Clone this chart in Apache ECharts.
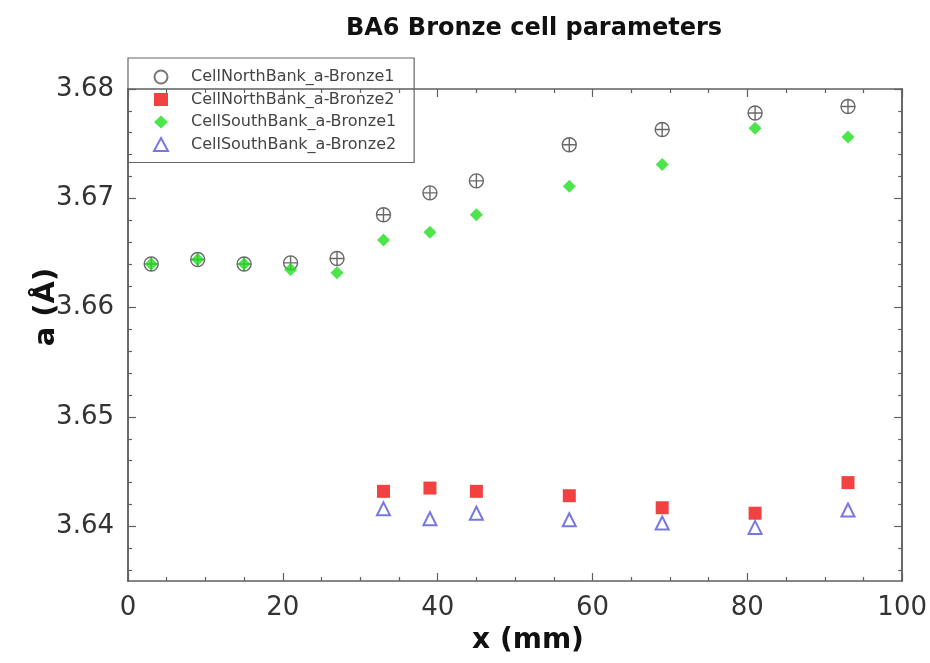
<!DOCTYPE html>
<html>
<head>
<meta charset="utf-8">
<script src="https://cdn.jsdelivr.net/npm/echarts@6/dist/echarts.min.js"></script>
<style>html,body{margin:0;padding:0;background:#fff}#c{width:930px;height:663px}</style>
</head>
<body>
<div id="c"></div>
<script>
// ---- data ----
const seriesNames = ['CellNorthBank_a-Bronze1', 'CellNorthBank_a-Bronze2', 'CellSouthBank_a-Bronze1', 'CellSouthBank_a-Bronze2'];
const xNorth1 = [3, 9, 15, 21, 27, 33, 39, 45, 57, 69, 81, 93];
const aNorth1 = [3.6640, 3.6644, 3.6640, 3.6641, 3.6645, 3.6685, 3.6705, 3.6716, 3.6749, 3.6763, 3.6778, 3.6784];
const xSouth1 = [3, 9, 15, 21, 27, 33, 39, 45, 57, 69, 81, 93];
const aSouth1 = [3.6640, 3.6644, 3.6640, 3.6635, 3.6632, 3.6662, 3.6669, 3.6685, 3.6711, 3.6731, 3.6764, 3.6756];
const xNorth2 = [33, 39, 45, 57, 69, 81, 93];
const aNorth2 = [3.6432, 3.6435, 3.6432, 3.6428, 3.6417, 3.6412, 3.6440];
const xSouth2 = [33, 39, 45, 57, 69, 81, 93];
const aSouth2 = [3.6416, 3.6407, 3.6412, 3.6406, 3.6403, 3.6399, 3.6415];
const yMajorTicks = [3.64, 3.65, 3.66, 3.67, 3.68];
const yMinorTicks = [3.636, 3.638, 3.642, 3.644, 3.646, 3.648, 3.652, 3.654, 3.656, 3.658, 3.662, 3.664, 3.666, 3.668, 3.672, 3.674, 3.676, 3.678];
const xMin = 0, xMax = 100, xStep = 20;
const yMin = 3.635, yMax = 3.68;
const titleText = 'BA6 Bronze cell parameters';
const xName = 'x (mm)';
const yName = 'a (Å)';

const pair = (xs, ys) => xs.map((x, i) => [x, ys[i]]);
const FONT = 'DejaVu Sans';
const AX = '#606060';

function yAx(pos, ticks, len, labels) {
  return {
    type: 'value', position: pos, min: yMin, max: yMax,
    axisLine: { show: true, lineStyle: { color: AX, width: 1.5 } },
    axisTick: { show: true, inside: true, length: len, customValues: ticks, lineStyle: { color: AX, width: 1.2 } },
    axisLabel: labels ? { show: true, customValues: ticks, formatter: v => v.toFixed(2), fontFamily: FONT, fontSize: 26, color: '#333', margin: 14 } : { show: false },
    splitLine: { show: false }
  };
}
function xAx(pos, labels) {
  return {
    type: 'value', position: pos, min: xMin, max: xMax, interval: xStep,
    axisLine: { show: true, onZero: false, lineStyle: { color: AX, width: 1.5 } },
    axisTick: { show: true, inside: true, length: 8, lineStyle: { color: AX, width: 1.2 } },
    minorTick: { show: true, splitNumber: 4, length: 4, lineStyle: { color: AX, width: 1.2 } },
    axisLabel: labels ? { show: true, fontFamily: FONT, fontSize: 26, color: '#333', margin: 14 } : { show: false },
    splitLine: { show: false }
  };
}

const chart = echarts.init(document.getElementById('c'), null, { renderer: 'canvas' });

chart.setOption({
  animation: false,
  backgroundColor: '#fff',
  title: {
    text: titleText, left: 529, top: 12, textAlign: 'center',
    textStyle: { fontFamily: FONT, fontWeight: 'bold', fontSize: 24, color: '#111' }
  },
  graphic: [
    { type: 'text', x: 528, y: 641, style: { text: xName, fontFamily: FONT, fontWeight: 'bold', fontSize: 28, fill: '#111', align: 'center', verticalAlign: 'middle' } },
    { type: 'text', x: 46, y: 307, rotation: Math.PI / 2, style: { text: yName, fontFamily: FONT, fontWeight: 'bold', fontSize: 29, fill: '#111', align: 'center', verticalAlign: 'middle' } }
  ],
  grid: { left: 128, right: 27, top: 89, bottom: 82 },
  legend: {
    orient: 'vertical', left: 128, top: 58,
    padding: [11, 18, 10, 25],
    itemWidth: 14, itemHeight: 13, itemGap: 6.5,
    borderColor: '#666', borderWidth: 1.2,
    textStyle: { fontFamily: FONT, fontSize: 16, color: '#444', lineHeight: 16, padding: [0, 0, 0, 18] },
    data: [
      { name: seriesNames[0], icon: 'emptyCircle', itemStyle: { color: '#555', borderColor: '#555', borderWidth: 1.3 } },
      { name: seriesNames[1], icon: 'rect' },
      { name: seriesNames[2], icon: 'diamond' },
      { name: seriesNames[3], icon: 'emptyTriangle', itemStyle: { color: '#5555dd', borderColor: '#5555dd', borderWidth: 1.3 } }
    ]
  },
  xAxis: [xAx('bottom', true), xAx('top', false)],
  yAxis: [yAx('left', yMajorTicks, 8, true), yAx('left', yMinorTicks, 4, false), yAx('right', yMajorTicks, 8, false), yAx('right', yMinorTicks, 4, false)],
  series: [
    {
      name: seriesNames[0], type: 'scatter', data: pair(xNorth1, aNorth1),
      symbol: 'path://M10,0A10,10,0,1,1,10,20A10,10,0,1,1,10,0ZM0,10L20,10M10,0L10,20', symbolSize: 14,
      itemStyle: { color: 'rgba(255,255,255,0)', borderColor: '#444', borderWidth: 1.4 }
    },
    {
      name: seriesNames[1], type: 'scatter', data: pair(xNorth2, aNorth2),
      symbol: 'rect', symbolSize: 13, itemStyle: { color: '#ee1111' }
    },
    {
      name: seriesNames[2], type: 'scatter', data: pair(xSouth1, aSouth1),
      symbol: 'diamond', symbolSize: 13, itemStyle: { color: '#1fe01f' }
    },
    {
      name: seriesNames[3], type: 'scatter', data: pair(xSouth2, aSouth2),
      symbol: 'emptyTriangle', symbolSize: 13, itemStyle: { color: '#5555dd', borderColor: '#5555dd', borderWidth: 1.3 }
    }
  ]
});
</script>
</body>
</html>
